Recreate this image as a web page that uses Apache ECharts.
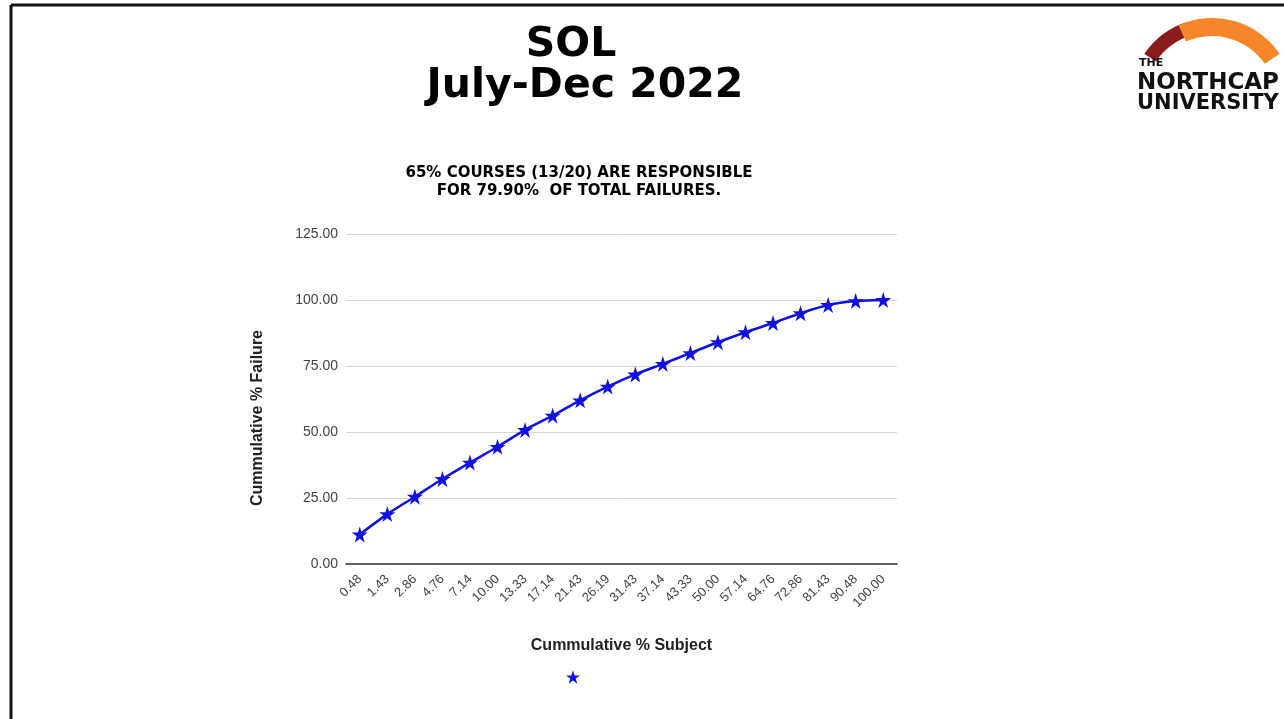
<!DOCTYPE html>
<html>
<head>
<meta charset="utf-8">
<script src="https://cdn.jsdelivr.net/npm/echarts@6/dist/echarts.min.js"></script>
<style>
html,body{margin:0;padding:0;background:#fff;}
#chart{width:1284px;height:719px;}
</style>
</head>
<body>
<div id="chart"></div>
<script>
// Data
var categories = ['0.48','1.43','2.86','4.76','7.14','10.00','13.33','17.14','21.43','26.19','31.43','37.14','43.33','50.00','57.14','64.76','72.86','81.43','90.48','100.00'];
var cumFailure = [11.2, 18.9, 25.5, 32.2, 38.4, 44.4, 50.8, 56.2, 62.0, 67.2, 71.8, 75.8, 79.9, 84.0, 87.8, 91.3, 95.0, 98.1, 99.6, 100.0];
var yTicks = {min: 0, max: 125, interval: 25};
var titleLines = ['SOL', 'July-Dec 2022'];
var subtitleLines = ['65% COURSES (13/20) ARE RESPONSIBLE', 'FOR 79.90%  OF TOTAL FAILURES.'];
var xAxisName = 'Cummulative % Subject';
var yAxisName = 'Cummulative % Failure';
var logoLines = ['THE', 'NORTHCAP', 'UNIVERSITY'];

var star = 'path://M50,0 L61.2,34.5 L97.6,34.5 L68.2,55.9 L79.4,90.5 L50,69.1 L20.6,90.5 L31.8,55.9 L2.4,34.5 L38.8,34.5 Z';
var blue = '#1010e0';
var sans = '"Liberation Sans", Arial, sans-serif';
var verd = '"DejaVu Sans", Verdana, sans-serif';

var chart = echarts.init(document.getElementById('chart'), null, {renderer: 'canvas'});
chart.setOption({
  backgroundColor: '#ffffff',
  animation: false,
  grid: {left: 346, right: 387, top: 234, bottom: 155, containLabel: false},
  legend: {
    show: true,
    data: [' '],
    icon: star,
    itemWidth: 14,
    itemHeight: 14,
    itemGap: 0,
    left: 561,
    top: 665,
    formatter: function(){ return ''; },
    textStyle: {fontSize: 1}
  },
  xAxis: {
    type: 'category',
    data: categories,
    boundaryGap: true,
    name: xAxisName,
    nameLocation: 'middle',
    nameGap: 74,
    nameTextStyle: {fontFamily: sans, fontWeight: 'bold', fontSize: 16, color: '#222'},
    axisLine: {show: true, lineStyle: {color: '#333', width: 1.5}},
    axisTick: {show: false},
    axisLabel: {rotate: 45, margin: 13, fontFamily: sans, fontSize: 13, color: '#444', interval: 0},
    splitLine: {show: false}
  },
  yAxis: {
    type: 'value',
    min: yTicks.min,
    max: yTicks.max,
    interval: yTicks.interval,
    axisLine: {show: false},
    axisTick: {show: false},
    axisLabel: {formatter: function(v){ return v.toFixed(2); }, margin: 8, fontFamily: sans, fontSize: 14, color: '#444'},
    splitLine: {show: true, lineStyle: {color: '#d6d6d6', width: 1}}
  },
  series: [{
    name: ' ',
    type: 'line',
    data: cumFailure,
    smooth: 0.25,
    symbol: star,
    symbolSize: 16,
    showAllSymbol: true,
    lineStyle: {color: blue, width: 2.5},
    itemStyle: {color: blue}
  }],
  graphic: [
    // border lines
    {type: 'line', shape: {x1: 11, y1: 5, x2: 1284, y2: 5}, style: {stroke: '#111', lineWidth: 3}},
    {type: 'line', shape: {x1: 11, y1: 5, x2: 11, y2: 719}, style: {stroke: '#111', lineWidth: 3}},
    // title
    {type: 'text', x: 571, y: 45, style: {text: titleLines[0], fill: '#000', font: 'bold 41px ' + verd, textAlign: 'center', textVerticalAlign: 'middle'}},
    {type: 'text', x: 585, y: 86, style: {text: titleLines[1], fill: '#000', font: 'bold 41px ' + verd, textAlign: 'center', textVerticalAlign: 'middle'}},
    // subtitle
    {type: 'text', x: 579, y: 173, style: {text: subtitleLines[0], fill: '#000', font: 'bold 15px ' + verd, textAlign: 'center', textVerticalAlign: 'middle'}},
    {type: 'text', x: 579, y: 191, style: {text: subtitleLines[1], fill: '#000', font: 'bold 15px ' + verd, textAlign: 'center', textVerticalAlign: 'middle'}},
    // y axis name
    {type: 'text', x: 258, y: 418, rotation: Math.PI / 2, style: {text: yAxisName, fill: '#222', font: 'bold 16px ' + sans, textAlign: 'center', textVerticalAlign: 'middle'}},
    // logo arcs
    {type: 'sector', shape: {cx: 1212, cy: 100, r: 82, r0: 68, startAngle: -Math.PI + 0.6, endAngle: -Math.PI / 2 - 0.3, clockwise: true}, style: {fill: '#8b1c1c'}},
    {type: 'sector', shape: {cx: 1212, cy: 100, r: 82, r0: 64, startAngle: -Math.PI / 2 - 0.42, endAngle: -0.6, clockwise: true}, style: {fill: '#f5872a'}},
    {type: 'text', x: 1139, y: 63, style: {text: logoLines[0], fill: '#111', font: 'bold 11px ' + verd, textVerticalAlign: 'middle'}},
    {type: 'text', x: 1137, y: 83, style: {text: logoLines[1], fill: '#111', font: 'bold 23px ' + verd, textVerticalAlign: 'middle'}},
    {type: 'text', x: 1137, y: 104, style: {text: logoLines[2], fill: '#111', font: 'bold 21px ' + verd, textVerticalAlign: 'middle'}}
  ]
});
</script>
</body>
</html>
